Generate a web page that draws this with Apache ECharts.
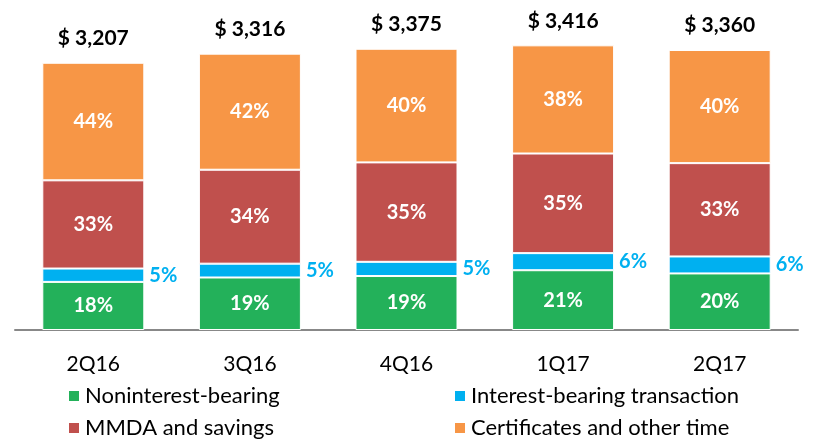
<!DOCTYPE html>
<html>
<head>
<meta charset="utf-8">
<script src="https://cdn.jsdelivr.net/npm/echarts@6/dist/echarts.min.js"></script>
<style>
html, body { margin: 0; padding: 0; background: #fff; }
#container { width: 820px; height: 439px; }
</style>
</head>
<body>
<div id="container"></div>
<script>
var dom = document.getElementById("container");
var myChart = echarts.init(dom);

// quarters and total deposits ($ millions)
var quarters = ['2Q16', '3Q16', '4Q16', '1Q17', '2Q17'];
var totals = [3207, 3316, 3375, 3416, 3360];

// mix in percent
var nonInterest = [18, 19, 19, 21, 20];
var interestTxn = [5, 5, 5, 6, 6];
var mmda = [33, 34, 35, 35, 33];
var certificates = [44, 42, 40, 38, 40];

var names = ['Noninterest-bearing', 'Interest-bearing transaction', 'MMDA and savings', 'Certificates and other time'];
var colors = ['#23B15A', '#00B0F0', '#C0504D', '#F79646'];
var pcts = [nonInterest, interestTxn, mmda, certificates];

var font = 'Lato';

// turn a percent into a dollar piece of the bar
function amounts(p) {
    var out = [];
    for (var i = 0; i < p.length; i++) {
        var sum = nonInterest[i] + interestTxn[i] + mmda[i] + certificates[i];
        out.push(totals[i] * p[i] / sum);
    }
    return out;
}

var series = [];
for (var k = 0; k < 4; k++) {
    (function (k) {
        var lbl = {
            show: true,
            position: 'inside',
            color: '#fff',
            fontFamily: font,
            fontWeight: 'bold',
            fontSize: 20,
            formatter: function (p) { return pcts[k][p.dataIndex] + '%'; }
        };
        if (k == 1) {
            lbl.position = 'right';
            lbl.distance = 5;
            lbl.color = '#00B0F0';
        }
        series.push({
            name: names[k],
            type: 'bar',
            stack: 'total',
            barWidth: 102,
            itemStyle: { color: colors[k], borderColor: '#fff', borderWidth: 1 },
            label: lbl,
            data: amounts(pcts[k])
        });
    })(k);
}
// totals on top
series.push({
    name: 'total',
    type: 'bar',
    stack: 'total',
    barWidth: 102,
    itemStyle: { color: 'transparent' },
    label: {
        show: true,
        position: 'top',
        distance: 14,
        color: '#000',
        fontFamily: font,
        fontWeight: 'bold',
        fontSize: 21,
        formatter: function (p) { return '$ ' + totals[p.dataIndex].toLocaleString('en-US'); }
    },
    data: totals.map(function () { return 0; })
});

// one legend per item, 2 x 2 layout
var legendPos = [[62, 380], [448, 380], [62, 412], [448, 412]];
var legends = [];
for (var j = 0; j < 4; j++) {
    legends.push({
        data: [names[j]],
        left: legendPos[j][0],
        top: legendPos[j][1],
        itemWidth: 12,
        itemHeight: 12,
        itemGap: 0,
        icon: 'rect',
        textStyle: { fontFamily: font, fontSize: 22, color: '#000' }
    });
}

var option = {
    animation: false,
    grid: { left: 15, right: 22, top: 30, bottom: 109 },
    legend: legends,
    xAxis: {
        type: 'category',
        data: quarters,
        axisLine: { lineStyle: { color: '#888', width: 2 } },
        axisTick: { show: false },
        axisLabel: { color: '#000', fontFamily: font, fontSize: 21, margin: 24 }
    },
    yAxis: {
        type: 'value',
        min: 0,
        max: 3600,
        show: false,
        splitLine: { show: false }
    },
    series: series
};
myChart.setOption(option);
</script>
</body>
</html>
